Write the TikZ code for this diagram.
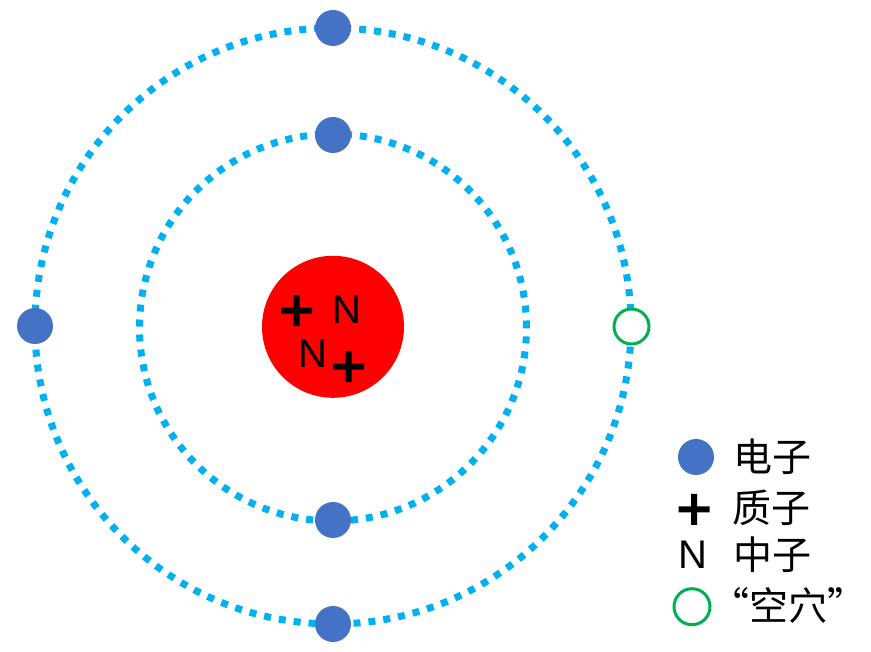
\documentclass[tikz,border=0pt]{standalone}
\usepackage{fontspec}
\setmainfont{Liberation Sans}
\newfontfamily\cjkfont{Noto Sans CJK SC}
\definecolor{ringblue}{HTML}{00B0F0}
\definecolor{elecblue}{HTML}{4472C4}
\definecolor{holegreen}{HTML}{00B050}
\tikzset{
  orbit/.style={circle,draw=ringblue,line width=7pt,dash pattern=on 7pt off 8pt,inner sep=0pt,outer sep=0pt,minimum size=#1},
  electron/.style={circle,fill=elecblue,inner sep=0pt,outer sep=0pt,minimum size=36pt},
  hole/.style={circle,draw=holegreen,line width=3pt,fill=white,inner sep=0pt,outer sep=0pt,minimum size=#1},
  nucleus/.style={circle,fill=red,inner sep=0pt,outer sep=0pt,minimum size=142pt},
  neutron/.style={inner sep=0pt,font=\fontsize{40}{40}\selectfont},
  legendtext/.style={inner sep=0pt,font=\fontsize{39}{39}\selectfont\cjkfont},
  proton/.pic={\fill[black] (-15.5,-3) rectangle (15.5,3) (-3,-15.5) rectangle (3,15.5);}
}
\begin{document}
\begin{tikzpicture}[x=1pt,y=1pt]
\useasboundingbox (0,0) rectangle (871,-652);
\node[orbit=596pt] (outer) at (333,-326) {};
\node[orbit=387pt] (inner) at (333,-327.5) {};
\node[nucleus] (core) at (333,-326.8) {};
\node[electron] (e1) at (333,-28) {};
\node[electron] (e2) at (333,-135) {};
\node[electron] (e3) at (333,-520) {};
\node[electron] (e4) at (333,-624) {};
\node[electron] (e5) at (35,-326) {};
\node[hole=35pt] (h1) at (631.5,-326.5) {};
\pic at (296.7,-310.7) {proton};
\pic at (348.7,-366.7) {proton};
\node[neutron] (n1) at (347,-309.5) {N};
\node[neutron] (n2) at (313.3,-353.5) {N};
\node[electron] (le) at (696,-457) {};
\pic at (694,-509.3) {proton};
\node[neutron] (ln) at (693.3,-555) {N};
\node[hole=36pt] (lh) at (692,-606.7) {};
\node[legendtext] (t1) at (772,-457) {电子};
\node[legendtext] (t2) at (771.5,-508) {质子};
\node[legendtext] (t3) at (772.5,-555) {中子};
\node[legendtext] (t4) at (788,-605) {“空穴”};
\end{tikzpicture}
\end{document}
